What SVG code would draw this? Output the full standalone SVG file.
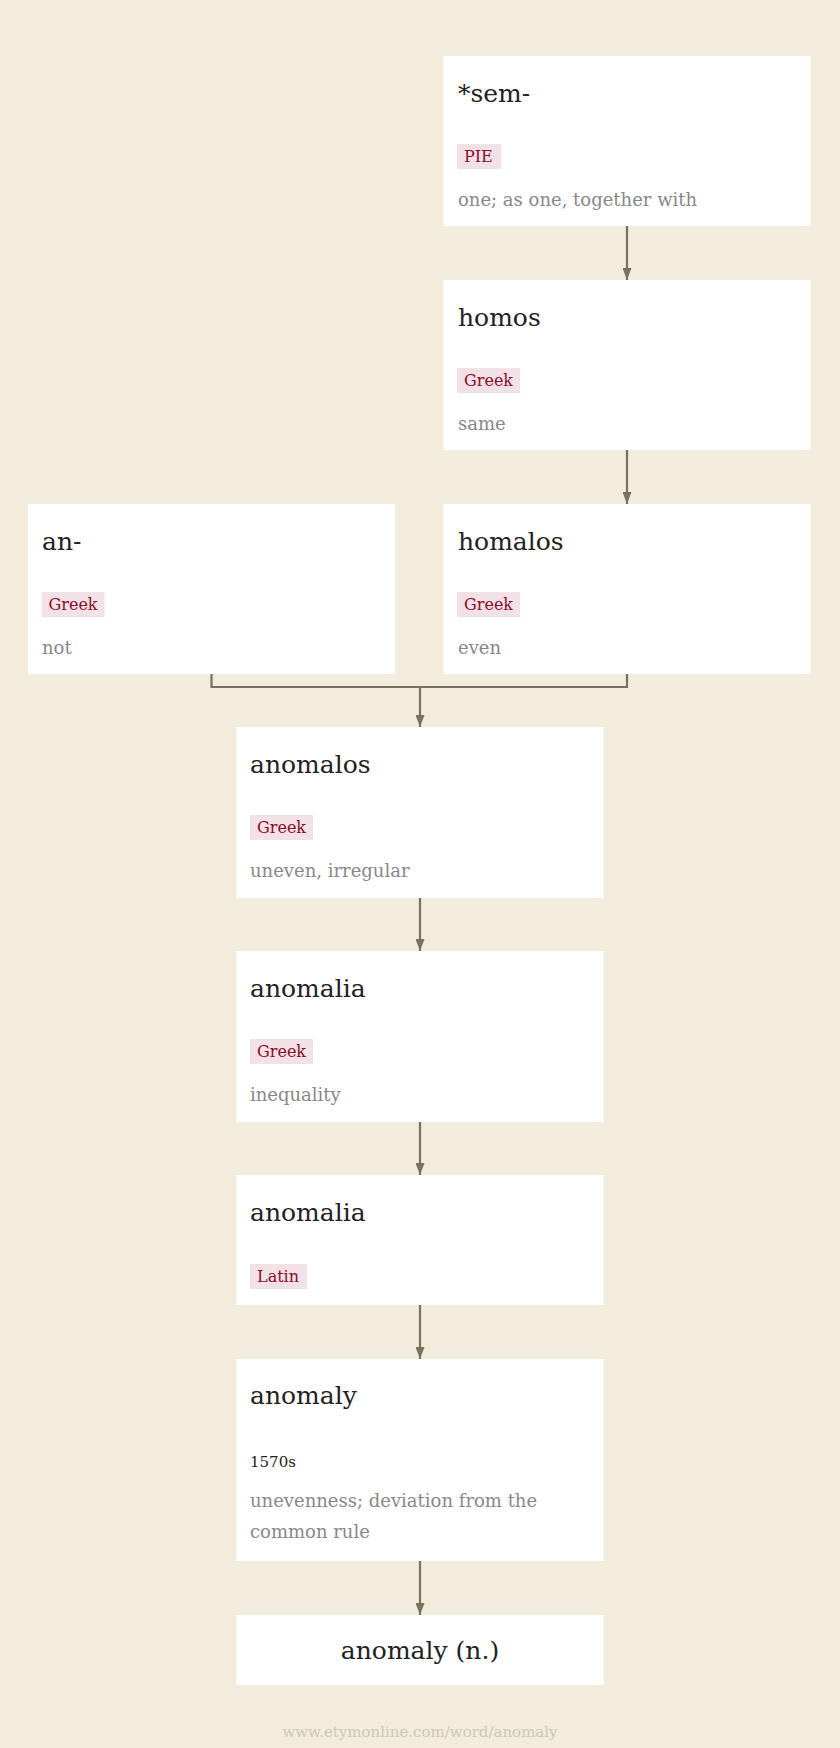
<svg xmlns="http://www.w3.org/2000/svg" width="840" height="1748" viewBox="0 0 840 1748">
<style>
.box{fill:#ffffff}
.title{font-family:"DejaVu Serif","Liberation Serif",serif;font-size:25px;fill:#222222}
.tag{fill:#f2e1e6}
.tagt{font-family:"DejaVu Serif","Liberation Serif",serif;font-size:16px;fill:#8b0a2a}
.gloss{font-family:"DejaVu Serif","Liberation Serif",serif;font-size:18px;fill:#888888}
.year{font-family:"DejaVu Serif","Liberation Serif",serif;font-size:15px;fill:#222222}
.foot{font-family:"DejaVu Serif","Liberation Serif",serif;font-size:15px;fill:#cfc7b5}
.conn{fill:none;stroke:#77715f;stroke-width:2.2}
</style>
<defs>
<marker id="ah" markerWidth="12" markerHeight="9" refX="12" refY="4.5" orient="auto" markerUnits="userSpaceOnUse" viewBox="0 0 12 9">
<path d="M0,0 L12,4.5 L0,9 Z" fill="#77715f"/>
</marker>
</defs>
<rect width="840" height="1748" fill="#f2ecdc"/>

<g id="connectors">
<path class="conn" d="M627,226 V280" marker-end="url(#ah)"/>
<path class="conn" d="M627,450 V504" marker-end="url(#ah)"/>
<path class="conn" d="M211.5,674 V687 H627 V674"/>
<path class="conn" d="M420,687 V727" marker-end="url(#ah)"/>
<path class="conn" d="M420,898 V951" marker-end="url(#ah)"/>
<path class="conn" d="M420,1122 V1175" marker-end="url(#ah)"/>
<path class="conn" d="M420,1305 V1359" marker-end="url(#ah)"/>
<path class="conn" d="M420,1561 V1615" marker-end="url(#ah)"/>
</g>

<g id="node-sem">
<rect class="box" x="443.5" y="56" width="367" height="170"/>
<text class="title" x="458" y="102">*sem-</text>
<rect class="tag" x="457" y="144" width="44" height="25"/>
<text class="tagt" x="464" y="162">PIE</text>
<text class="gloss" x="458" y="206">one; as one, together with</text>
</g>

<g id="node-homos">
<rect class="box" x="443.5" y="280" width="367" height="170"/>
<text class="title" x="458" y="326">homos</text>
<rect class="tag" x="457" y="368" width="63" height="25"/>
<text class="tagt" x="464" y="386">Greek</text>
<text class="gloss" x="458" y="430">same</text>
</g>

<g id="node-an">
<rect class="box" x="28" y="504" width="367" height="170"/>
<text class="title" x="42" y="550">an-</text>
<rect class="tag" x="41.5" y="592" width="63" height="25"/>
<text class="tagt" x="48.5" y="610">Greek</text>
<text class="gloss" x="42" y="654">not</text>
</g>

<g id="node-homalos">
<rect class="box" x="443.5" y="504" width="367" height="170"/>
<text class="title" x="458" y="550">homalos</text>
<rect class="tag" x="457" y="592" width="63" height="25"/>
<text class="tagt" x="464" y="610">Greek</text>
<text class="gloss" x="458" y="654">even</text>
</g>

<g id="node-anomalos">
<rect class="box" x="236.5" y="727" width="367" height="171"/>
<text class="title" x="250" y="773">anomalos</text>
<rect class="tag" x="250" y="815" width="63" height="25"/>
<text class="tagt" x="257" y="833">Greek</text>
<text class="gloss" x="250" y="877">uneven, irregular</text>
</g>

<g id="node-anomalia-greek">
<rect class="box" x="236.5" y="951" width="367" height="171"/>
<text class="title" x="250" y="997">anomalia</text>
<rect class="tag" x="250" y="1039" width="63" height="25"/>
<text class="tagt" x="257" y="1057">Greek</text>
<text class="gloss" x="250" y="1101">inequality</text>
</g>

<g id="node-anomalia-latin">
<rect class="box" x="236.5" y="1175" width="367" height="130"/>
<text class="title" x="250" y="1221">anomalia</text>
<rect class="tag" x="250" y="1264" width="57" height="25"/>
<text class="tagt" x="257" y="1282">Latin</text>
</g>

<g id="node-anomaly">
<rect class="box" x="236.5" y="1359" width="367" height="202"/>
<text class="title" x="250" y="1404">anomaly</text>
<text class="year" x="250" y="1467">1570s</text>
<text class="gloss" x="250" y="1507">unevenness; deviation from the</text>
<text class="gloss" x="250" y="1538">common rule</text>
</g>

<g id="node-anomaly-n">
<rect class="box" x="236.5" y="1615" width="367" height="70"/>
<text class="title" x="420" y="1659" text-anchor="middle">anomaly (n.)</text>
</g>

<text class="foot" x="420" y="1737" text-anchor="middle">www.etymonline.com/word/anomaly</text>
</svg>
